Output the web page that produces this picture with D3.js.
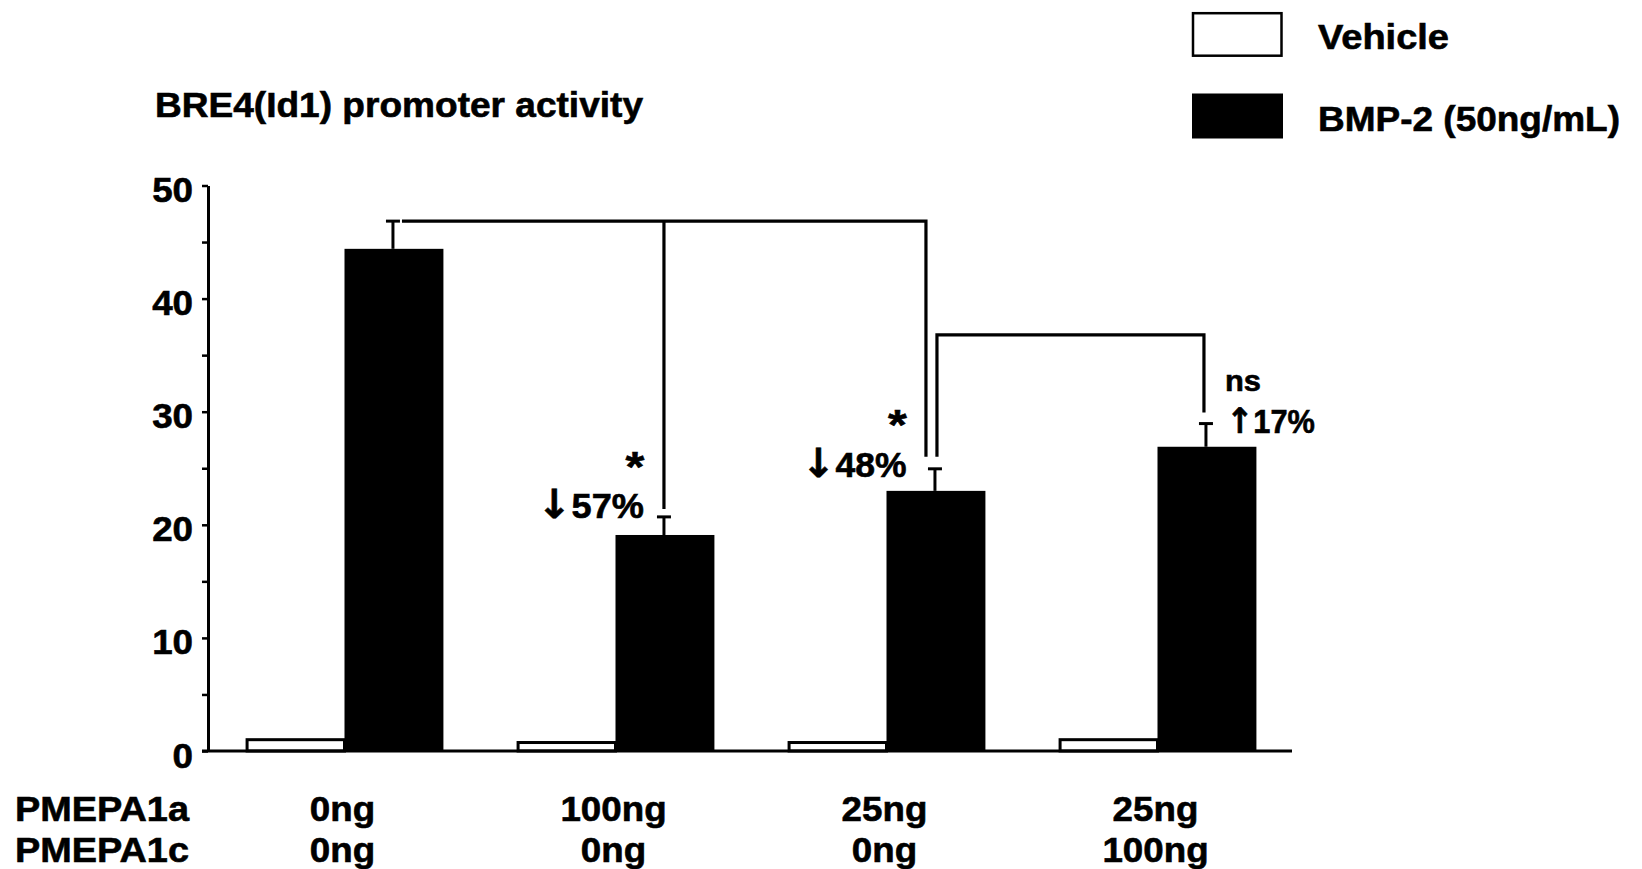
<!DOCTYPE html>
<html><head><meta charset="utf-8">
<script src="https://cdn.jsdelivr.net/npm/d3@7"></script>
<style>
body{margin:0;background:#fff}
svg{display:block}
text{font-family:"Liberation Sans",Arial,Helvetica,sans-serif;font-weight:bold;fill:#000;stroke:#000;stroke-width:0.6px}
tspan.arrow{font-family:"DejaVu Sans",sans-serif;font-weight:bold}
</style>
</head><body>
<svg id="c" width="1642" height="869"></svg>
<script>
// ---------- data ----------
const groups = ["G1","G2","G3","G4"];
const pmepa1a = ["0ng","100ng","25ng","25ng"];
const pmepa1c = ["0ng","0ng","0ng","100ng"];
const rowLabels = ["PMEPA1a","PMEPA1c"];
const seriesNames = ["Vehicle","BMP-2 (50ng/mL)"];
const vehicle = [1.0, 0.75, 0.75, 1.0];
const bmp2 = [44.4, 19.1, 23.0, 26.9];
const bmp2Err = [2.45, 1.6, 1.95, 2.05];
const yTicks = [0,10,20,30,40,50];
const yMinor = [5,15,25,35,45];
const title = "BRE4(Id1) promoter activity";
const changeArrows = ["", "↓", "↓", "↑"];
const changeLabels = ["", "57%", "48%", "17%"];
const sigLabels = ["", "*", "*", "ns"];
const bracket2Level = 36.8;

(function(){
// ---------- layout ----------
const svg = d3.select("#c");
const x = d3.scaleBand().domain(groups).range([209,1293]).paddingInner(0.27).paddingOuter(0.135);
const xs = d3.scaleBand().domain([0,1]).range([0, x.bandwidth()]);
const y = d3.scaleLinear().domain([0,50]).range([751,185.5]);
const LW = 3;

function stretch(sel, k){
  sel.each(function(){
    const n = this.getComputedTextLength();
    d3.select(this).attr("textLength", n*k).attr("lengthAdjust","spacingAndGlyphs");
  });
}
function fitW(sel, w){ sel.attr("textLength", w).attr("lengthAdjust","spacingAndGlyphs"); }

// title
svg.append("text").attr("x",155).attr("y",117).style("font-size","35px").text(title).call(fitW, 488);

// legend
const leg = svg.append("g");
seriesNames.forEach((s,i)=>{
  const gy = 12 + i*81.5;
  if(i===0){
    leg.append("rect").attr("x",1193).attr("y",gy+1.2).attr("width",88.5).attr("height",42.5)
      .attr("fill","#fff").attr("stroke","#000").attr("stroke-width",2.5);
  } else {
    leg.append("rect").attr("x",1192).attr("y",gy).attr("width",91).attr("height",45).attr("fill","#000");
  }
  leg.append("text").attr("x",1318).attr("y",gy+37).style("font-size","35px").text(s)
    .call(fitW, i===0 ? 131 : 302);
});

// y axis
const yAxis = d3.axisLeft(y)
  .tickValues(yTicks.concat(yMinor).sort((a,b)=>a-b))
  .tickSize(6).tickSizeOuter(0).tickPadding(9)
  .tickFormat(d => d%10===0 ? d : "");
const ya = svg.append("g").attr("transform","translate(208,0)").call(yAxis);
ya.select(".domain").attr("stroke-width",LW).attr("stroke","#000");
ya.selectAll(".tick line").attr("stroke-width",2.5).attr("stroke","#000");
ya.selectAll(".tick text").attr("dy","16px").style("font-size","35px").attr("fill","#000").call(stretch,1.05);

// bars
const gBars = svg.append("g");
groups.forEach((g,i)=>{
  const x0 = x(g);
  gBars.append("rect")
    .attr("x", x0 + xs(0) + 1.5).attr("width", xs.bandwidth() - 1.5)
    .attr("y", y(vehicle[i])).attr("height", y(0) - y(vehicle[i]))
    .attr("fill","#fff").attr("stroke","#000").attr("stroke-width",LW);
  gBars.append("rect")
    .attr("x", x0 + xs(1)).attr("width", xs.bandwidth())
    .attr("y", y(bmp2[i])).attr("height", y(0) - y(bmp2[i]))
    .attr("fill","#000");
  const cx = x0 + xs(1) + xs.bandwidth()/2 - 1;
  gBars.append("line").attr("x1",cx).attr("x2",cx)
    .attr("y1",y(bmp2[i])).attr("y2",y(bmp2[i]+bmp2Err[i]))
    .attr("stroke","#000").attr("stroke-width",LW);
  gBars.append("line").attr("x1",cx-7).attr("x2",cx+7)
    .attr("y1",y(bmp2[i]+bmp2Err[i])).attr("y2",y(bmp2[i]+bmp2Err[i]))
    .attr("stroke","#000").attr("stroke-width",LW);
});

// x axis line
svg.append("line").attr("x1",202).attr("x2",1292).attr("y1",y(0)).attr("y2",y(0))
  .attr("stroke","#000").attr("stroke-width",LW);

// brackets
const bc = i => x(groups[i]) + xs(1) + xs.bandwidth()/2 - 1;
const errTop = i => y(bmp2[i] + bmp2Err[i]);
const line = d3.line();
const br = svg.append("g").attr("fill","none").attr("stroke","#000").attr("stroke-width",3.2);
br.append("path").attr("d", line([[bc(0)+9, errTop(0)], [bc(2)-9, errTop(0)], [bc(2)-9, errTop(2)-12]]));
br.append("path").attr("d", line([[bc(1), errTop(0)], [bc(1), errTop(1)-8]]));
br.append("path").attr("d", line([[bc(2)+2, errTop(2)-12], [bc(2)+2, y(bracket2Level)], [bc(3)-2, y(bracket2Level)], [bc(3)-2, errTop(3)-11]]));

// annotations
const ann = svg.append("g");
// [anchor, dx, dy, fontsize, width, arrowsize]
const chLayout = [null, ["end",-20,1.5,35,107,40], ["end",-28.5,8.5,35,105,40], ["start",20,9.5,33,89,35]];
const sgLayout = [null, ["middle",-29,-36,42], ["middle",-37.5,-30,42], ["start",19,-33,30]];
groups.forEach((g,i)=>{
  if(!changeLabels[i]) return;
  const c = chLayout[i], s = sgLayout[i];
  const t1 = ann.append("text").attr("x", bc(i)+c[1]).attr("y", errTop(i)+c[2]).attr("text-anchor",c[0])
    .style("font-size",c[3]+"px");
  t1.append("tspan").attr("class","arrow").style("font-size",c[5]+"px").text(changeArrows[i]);
  t1.append("tspan").text(changeLabels[i]);
  t1.call(fitW, c[4]);
  const t = ann.append("text").attr("x", bc(i)+s[1]).attr("y", errTop(i)+s[2])
    .attr("text-anchor",s[0]).style("font-size",s[3]+"px").text(sigLabels[i]);
  if(sigLabels[i]==="*") t.call(stretch,1.15); else t.call(fitW, 36);
});

// category labels
const lab = svg.append("g");
rowLabels.forEach((r,j)=>{
  const by = 821 + j*41;
  lab.append("text").attr("x",15).attr("y",by).style("font-size","35px").text(r).call(fitW, 174);
  const vals = j===0 ? pmepa1a : pmepa1c;
  groups.forEach((g,i)=>{
    lab.append("text").attr("x", x(g)+x.bandwidth()/2 - 2).attr("y",by).attr("text-anchor","middle")
      .style("font-size","35px").text(vals[i]).call(stretch,1.05);
  });
});
})();
</script>
</body></html>
